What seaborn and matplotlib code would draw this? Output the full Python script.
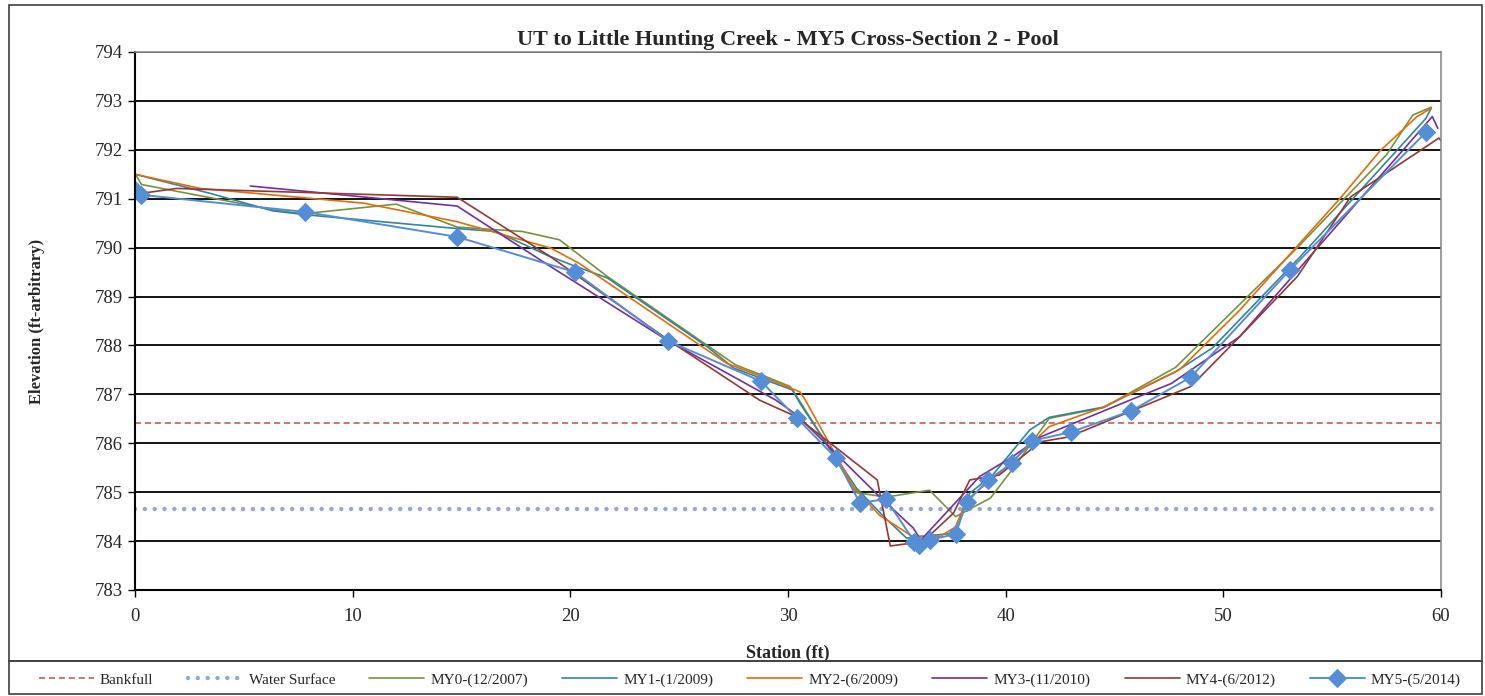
import seaborn as sns
import pandas as pd
from matplotlib import pyplot as plt
from matplotlib.patches import Rectangle

# survey data (station ft, elevation ft)
bankfull_x = [0, 60]
bankfull_y = [786.42, 786.42]
water_x = [0, 60]
water_y = [784.65, 784.65]

my0_x = [0, 0.3, 6.4, 7.7, 12.0, 14.8, 17.8, 19.5, 20.0, 21.7, 27.6, 29.0, 30.1, 30.6, 33.15, 34.5, 36.5, 37.7, 39.3, 40.4, 42.0, 44.5, 47.8, 53.4, 57.5, 58.7, 59.55]
my0_y = [791.52, 791.29, 790.77, 790.69, 790.89, 790.42, 790.33, 790.16, 789.99, 789.41, 787.6, 787.36, 787.16, 786.82, 784.99, 784.9, 785.04, 784.5, 784.88, 785.52, 786.51, 786.73, 787.55, 790.0, 791.9, 792.71, 792.87]

my1_x = [0, 3.45, 6.35, 7.9, 14.8, 16.6, 18.9, 20.1, 21.7, 26.3, 27.5, 29.0, 30.2, 30.6, 33.15, 34.4, 35.45, 36.05, 37.6, 38.35, 39.4, 41.1, 42.0, 44.5, 47.8, 49.5, 53.5, 59.3, 59.55]
my1_y = [791.5, 791.11, 790.75, 790.67, 790.39, 790.33, 789.85, 789.64, 789.38, 787.97, 787.54, 787.29, 787.09, 786.78, 785.08, 784.5, 784.06, 784.09, 784.16, 784.98, 785.35, 786.27, 786.53, 786.74, 787.46, 787.95, 789.8, 792.64, 792.85]

my2_x = [0, 3.0, 10.5, 14.8, 19.1, 20.4, 27.2, 29.0, 30.55, 30.8, 33.0, 34.2, 35.7, 37.0, 37.7, 38.2, 40.0, 42.0, 44.5, 48.0, 50.75, 55.35, 57.2, 58.9, 59.55]
my2_y = [791.5, 791.21, 790.91, 790.53, 789.99, 789.68, 787.63, 787.33, 787.05, 786.88, 785.11, 784.53, 784.1, 784.1, 784.29, 784.84, 785.5, 786.34, 786.74, 787.51, 788.72, 791.0, 791.98, 792.68, 792.85]

my3_x = [5.3, 14.8, 19.1, 24.4, 29.45, 30.4, 34.2, 35.75, 36.1, 38.8, 40.3, 41.6, 45.7, 47.6, 50.75, 59.6, 59.85]
my3_y = [791.26, 790.85, 789.61, 788.12, 786.88, 786.58, 784.91, 784.27, 784.02, 785.32, 785.72, 786.13, 786.88, 787.22, 788.18, 792.68, 792.44]

my4_x = [0.3, 1.9, 14.8, 19.1, 24.6, 28.7, 30.4, 34.1, 34.7, 36.2, 37.6, 38.35, 39.7, 41.6, 42.9, 48.5, 50.75, 53.4, 55.85, 59.9, 60.0]
my4_y = [791.11, 791.21, 791.03, 789.81, 788.08, 786.88, 786.54, 785.25, 783.9, 783.99, 784.57, 785.25, 785.35, 786.03, 786.13, 787.16, 788.18, 789.41, 791.04, 792.24, 792.19]

my5_x = [0, 0.28, 7.8, 14.8, 20.2, 24.5, 28.75, 30.4, 32.2, 33.3, 34.5, 35.8, 36.0, 36.5, 37.7, 38.2, 39.2, 40.3, 41.2, 43.0, 45.75, 48.5, 53.05, 59.33]
my5_y = [791.18, 791.08, 790.73, 790.22, 789.5, 788.09, 787.27, 786.52, 785.7, 784.78, 784.86, 783.99, 783.91, 784.03, 784.14, 784.79, 785.25, 785.6, 786.05, 786.23, 786.66, 787.35, 789.54, 792.37]

surveys = ['MY0-(12/2007)', 'MY1-(1/2009)', 'MY2-(6/2009)', 'MY3-(11/2010)', 'MY4-(6/2012)', 'MY5-(5/2014)']
survey_x = [my0_x, my1_x, my2_x, my3_x, my4_x, my5_x]
survey_y = [my0_y, my1_y, my2_y, my3_y, my4_y, my5_y]
colors = ['#77933C', '#31859C', '#E46C0A', '#7030A0', '#953735', '#558ED5']

sns.set_style("white")
plt.rcParams['font.family'] = ['Liberation Serif', 'DejaVu Serif']

fig = plt.figure(figsize=(14.85, 6.96), dpi=100)
ax = fig.add_axes([0.0909, 0.1523, 0.8795, 0.7730])

sns.lineplot(x=bankfull_x, y=bankfull_y, ax=ax, color='#C0504D', lw=1.1,
             label='Bankfull', linestyle=(0, (4, 2.5)))
ws = sns.lineplot(x=water_x, y=water_y, ax=ax, color='#8EA9DB', lw=3.2, label='Water Surface')
ws.lines[-1].set_dashes((0.01, 2.2))
ws.lines[-1].set_dash_capstyle('round')

for name, xs, ys, c in zip(surveys, survey_x, survey_y, colors):
    df = pd.DataFrame({'Station': xs, 'Elevation': ys})
    if name.startswith('MY5'):
        sns.lineplot(data=df, x='Station', y='Elevation', ax=ax, sort=False, color=c,
                     lw=1.4, marker='D', markersize=9, markeredgecolor=c, label=name)
    else:
        sns.lineplot(data=df, x='Station', y='Elevation', ax=ax, sort=False, color=c,
                     lw=1.2, label=name)

ax.set_xlim(0, 60)
ax.set_ylim(783, 794)
ax.set_xticks(range(0, 61, 10))
ax.set_yticks(range(783, 795))
ax.yaxis.grid(True, color='black', lw=1.3)
ax.xaxis.grid(False)
ax.set_axisbelow(True)
ax.tick_params(axis='both', labelsize=13.5, direction='out', length=5, width=1,
               left=True, bottom=True, color='black')
ax.tick_params(axis='x', pad=8)
for s in ['left', 'bottom']:
    ax.spines[s].set_color('black')
    ax.spines[s].set_linewidth(1.5)
for s in ['top', 'right']:
    ax.spines[s].set_color('#8c8c8c')
    ax.spines[s].set_linewidth(1.2)

ax.set_title('UT to Little Hunting Creek - MY5 Cross-Section 2 - Pool', fontsize=16,
             fontweight='bold', pad=5)
ax.set_xlabel('Station (ft)', fontsize=13, fontweight='bold', labelpad=14)
ax.set_ylabel('Elevation (ft-arbitrary)', fontsize=12, fontweight='bold', labelpad=36)

handles, labels = ax.get_legend_handles_labels()
ax.get_legend().remove()
fig.legend(handles, labels, loc='lower left', ncol=8, mode='expand',
           bbox_to_anchor=(0.02, 0.0, 0.97, 0.05), frameon=False, fontsize=11,
           handlelength=3.6, handletextpad=0.4, borderaxespad=0.2)

fig.patches.append(Rectangle((0.006, 0.0503), 0.992, 0.9425, transform=fig.transFigure,
                             fill=False, edgecolor='#404040', lw=1.2))
fig.patches.append(Rectangle((0.006, 0.003), 0.992, 0.0473, transform=fig.transFigure,
                             fill=False, edgecolor='#404040', lw=1.2))

fig.savefig('out.png', dpi=100)
